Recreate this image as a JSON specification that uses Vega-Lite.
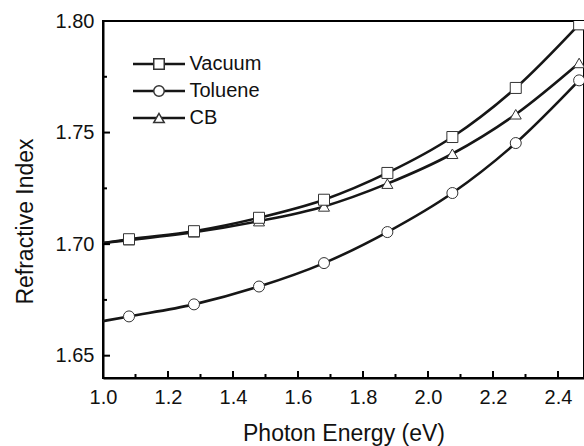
{
  "$schema": "https://vega.github.io/schema/vega-lite/v6.json",
  "width": 481,
  "height": 357,
  "autosize": {"type": "none"},
  "padding": {"left": 103, "top": 21, "right": 0, "bottom": 68},
  "background": "white",
  "config": {
    "view": {"stroke": "black", "strokeWidth": 2},
    "font": "Liberation Sans",
    "axis": {
      "grid": false,
      "domainColor": "black",
      "domainWidth": 2,
      "labelFont": "Liberation Sans",
      "labelFontSize": 20,
      "labelColor": "#111",
      "titleFont": "Liberation Sans",
      "titleFontSize": 23,
      "titleFontWeight": "normal",
      "titleColor": "#111"
    },
    "legend": {
      "labelFont": "Liberation Sans",
      "labelFontSize": 20,
      "labelColor": "#111"
    }
  },
  "datasets": {
    "curves": [
      {"series": "Vacuum", "energy": 1.0, "n": 1.7005},
      {"series": "Vacuum", "energy": 1.08, "n": 1.7022},
      {"series": "Vacuum", "energy": 1.28, "n": 1.7058},
      {"series": "Vacuum", "energy": 1.48, "n": 1.7118},
      {"series": "Vacuum", "energy": 1.68, "n": 1.7199},
      {"series": "Vacuum", "energy": 1.875, "n": 1.7319},
      {"series": "Vacuum", "energy": 2.075, "n": 1.748},
      {"series": "Vacuum", "energy": 2.27, "n": 1.770},
      {"series": "Vacuum", "energy": 2.465, "n": 1.7985},
      {"series": "CB", "energy": 1.0, "n": 1.7005},
      {"series": "CB", "energy": 1.08, "n": 1.7018},
      {"series": "CB", "energy": 1.28, "n": 1.7053},
      {"series": "CB", "energy": 1.48, "n": 1.7103},
      {"series": "CB", "energy": 1.68, "n": 1.7169},
      {"series": "CB", "energy": 1.875, "n": 1.7271},
      {"series": "CB", "energy": 2.075, "n": 1.7405},
      {"series": "CB", "energy": 2.27, "n": 1.7582},
      {"series": "CB", "energy": 2.465, "n": 1.7812},
      {"series": "Toluene", "energy": 1.0, "n": 1.6655},
      {"series": "Toluene", "energy": 1.08, "n": 1.6676},
      {"series": "Toluene", "energy": 1.28, "n": 1.673},
      {"series": "Toluene", "energy": 1.48, "n": 1.681},
      {"series": "Toluene", "energy": 1.68, "n": 1.6915},
      {"series": "Toluene", "energy": 1.875, "n": 1.7054},
      {"series": "Toluene", "energy": 2.075, "n": 1.7229},
      {"series": "Toluene", "energy": 2.27, "n": 1.7453},
      {"series": "Toluene", "energy": 2.465, "n": 1.7734}
    ],
    "markers": [
      {"series": "Toluene", "energy": 1.08, "n": 1.6676},
      {"series": "Toluene", "energy": 1.28, "n": 1.673},
      {"series": "Toluene", "energy": 1.48, "n": 1.681},
      {"series": "Toluene", "energy": 1.68, "n": 1.6915},
      {"series": "Toluene", "energy": 1.875, "n": 1.7054},
      {"series": "Toluene", "energy": 2.075, "n": 1.7229},
      {"series": "Toluene", "energy": 2.27, "n": 1.7453},
      {"series": "Toluene", "energy": 2.465, "n": 1.7734},
      {"series": "CB", "energy": 1.08, "n": 1.7018},
      {"series": "CB", "energy": 1.28, "n": 1.7053},
      {"series": "CB", "energy": 1.48, "n": 1.7103},
      {"series": "CB", "energy": 1.68, "n": 1.7169},
      {"series": "CB", "energy": 1.875, "n": 1.7271},
      {"series": "CB", "energy": 2.075, "n": 1.7405},
      {"series": "CB", "energy": 2.27, "n": 1.7582},
      {"series": "CB", "energy": 2.465, "n": 1.7812},
      {"series": "Vacuum", "energy": 1.08, "n": 1.7022},
      {"series": "Vacuum", "energy": 1.28, "n": 1.7058},
      {"series": "Vacuum", "energy": 1.48, "n": 1.7118},
      {"series": "Vacuum", "energy": 1.68, "n": 1.7199},
      {"series": "Vacuum", "energy": 1.875, "n": 1.7319},
      {"series": "Vacuum", "energy": 2.075, "n": 1.748},
      {"series": "Vacuum", "energy": 2.27, "n": 1.770},
      {"series": "Vacuum", "energy": 2.465, "n": 1.7985}
    ],
    "xmajor": [{"v": 1.2}, {"v": 1.4}, {"v": 1.6}, {"v": 1.8}, {"v": 2.0}, {"v": 2.2}, {"v": 2.4}],
    "xminor": [{"v": 1.1}, {"v": 1.3}, {"v": 1.5}, {"v": 1.7}, {"v": 1.9}, {"v": 2.1}, {"v": 2.3}],
    "ymajor": [{"v": 1.65}, {"v": 1.70}, {"v": 1.75}],
    "yminor": [{"v": 1.675}, {"v": 1.725}, {"v": 1.775}]
  },
  "layer": [
    {
      "data": {"name": "curves"},
      "mark": {"type": "line", "interpolate": "monotone", "strokeWidth": 2.6, "clip": true},
      "encoding": {
        "x": {
          "field": "energy",
          "type": "quantitative",
          "title": "Photon Energy (eV)",
          "scale": {"domain": [1.0, 2.48], "nice": false, "zero": false},
          "axis": {
            "values": [1.0, 1.2, 1.4, 1.6, 1.8, 2.0, 2.2, 2.4],
            "format": ".1f",
            "ticks": false,
            "labelPadding": 9,
            "titlePadding": 15,
            "labelFlush": false,
            "labelOverlap": false
          }
        },
        "y": {
          "field": "n",
          "type": "quantitative",
          "title": "Refractive Index",
          "scale": {"domain": [1.64, 1.80], "nice": false, "zero": false},
          "axis": {
            "values": [1.65, 1.7, 1.75, 1.8],
            "format": ".2f",
            "ticks": false,
            "labelPadding": 9,
            "titlePadding": 18,
            "titleY": 200,
            "labelFlush": false,
            "labelOverlap": false
          }
        },
        "color": {
          "field": "series",
          "type": "nominal",
          "sort": ["Vacuum", "Toluene", "CB"],
          "scale": {"range": ["#161616", "#161616", "#161616"]},
          "legend": {
            "title": null,
            "orient": "none",
            "legendX": 28.5,
            "legendY": 33,
            "padding": 0,
            "symbolType": "stroke",
            "symbolSize": 2704,
            "symbolStrokeWidth": 2.5,
            "symbolStrokeColor": "#161616",
            "clipHeight": 20,
            "rowPadding": 7,
            "labelOpacity": 0
          }
        }
      }
    },
    {
      "data": {"name": "markers"},
      "mark": {"type": "point", "filled": false, "fill": "white", "fillOpacity": 1, "stroke": "#333", "strokeWidth": 1, "size": 121, "opacity": 1, "clip": true},
      "encoding": {
        "x": {"field": "energy", "type": "quantitative"},
        "y": {"field": "n", "type": "quantitative"},
        "shape": {
          "field": "series",
          "type": "nominal",
          "scale": {"domain": ["Vacuum", "Toluene", "CB"], "range": ["square", "circle", "triangle-up"]},
          "legend": {
            "title": null,
            "orient": "none",
            "legendX": 28.5,
            "legendY": 33,
            "padding": 0,
            "symbolSize": 110,
            "symbolOpacity": 1,
            "symbolOffset": 17.5,
            "clipHeight": 20,
            "labelOffset": 20.5,
            "rowPadding": 7,
            "encode": {
              "symbols": {
                "update": {
                  "fill": {"value": "white"},
                  "fillOpacity": {"value": 1},
                  "stroke": {"value": "#333"},
                  "strokeOpacity": {"value": 1},
                  "strokeWidth": {"value": 1.2},
                  "opacity": {"value": 1}
                }
              }
            }
          }
        }
      }
    },
    {
      "data": {"name": "xmajor"},
      "mark": {"type": "rule", "color": "black", "strokeWidth": 2, "opacity": 1, "clip": false},
      "encoding": {
        "x": {"field": "v", "type": "quantitative"},
        "y": {"datum": 1.64, "type": "quantitative"},
        "y2": {"datum": 1.6431}
      }
    },
    {
      "data": {"name": "xminor"},
      "mark": {"type": "rule", "color": "black", "strokeWidth": 2, "opacity": 1, "clip": false},
      "encoding": {
        "x": {"field": "v", "type": "quantitative"},
        "y": {"datum": 1.64, "type": "quantitative"},
        "y2": {"datum": 1.6418}
      }
    },
    {
      "data": {"name": "ymajor"},
      "mark": {"type": "rule", "color": "black", "strokeWidth": 2, "opacity": 1, "clip": false},
      "encoding": {
        "y": {"field": "v", "type": "quantitative"},
        "x": {"datum": 1.0, "type": "quantitative"},
        "x2": {"datum": 1.0215}
      }
    },
    {
      "data": {"name": "yminor"},
      "mark": {"type": "rule", "color": "black", "strokeWidth": 2, "opacity": 1, "clip": false},
      "encoding": {
        "y": {"field": "v", "type": "quantitative"},
        "x": {"datum": 1.0, "type": "quantitative"},
        "x2": {"datum": 1.0123}
      }
    }
  ]
}
